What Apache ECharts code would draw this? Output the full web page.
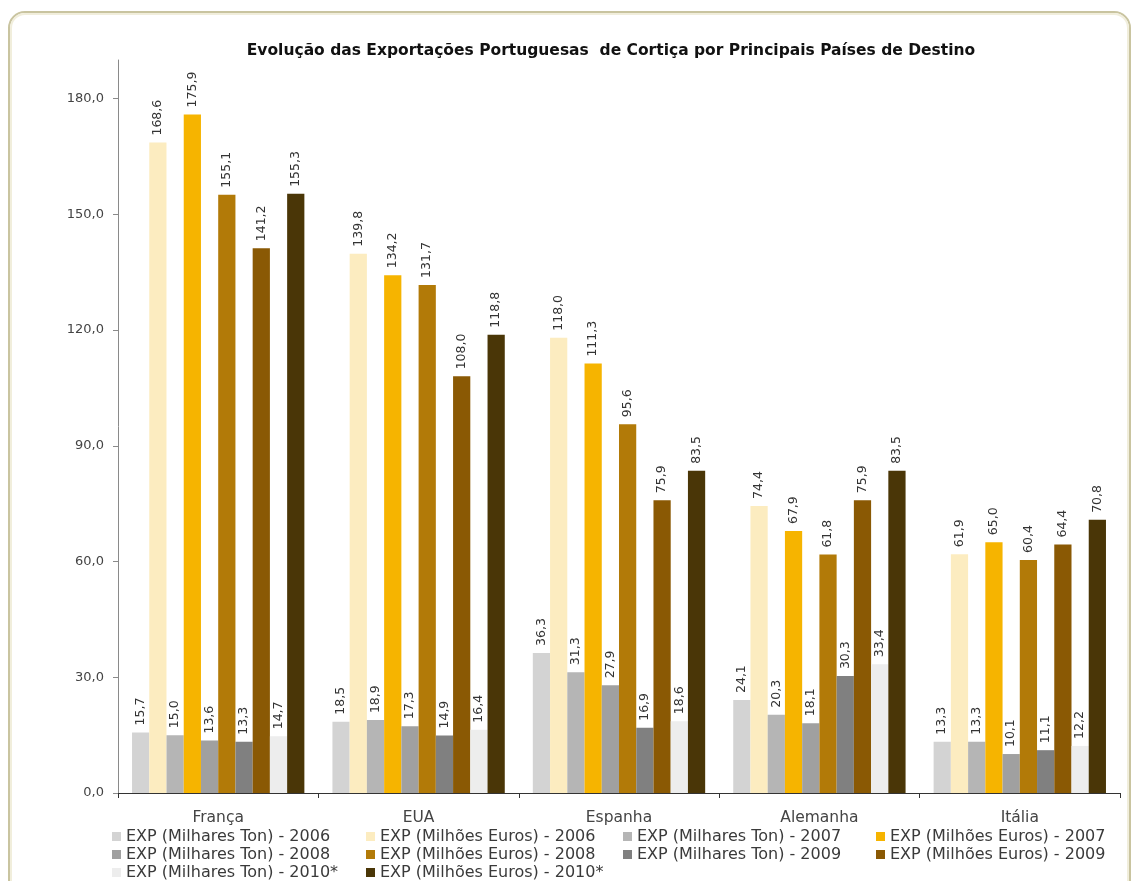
<!DOCTYPE html>
<html>
<head>
<meta charset="utf-8">
<script src="https://cdn.jsdelivr.net/npm/echarts@6/dist/echarts.min.js"></script>
<style>
  html, body { margin: 0; padding: 0; background: #ffffff; }
  #chart { width: 1132px; height: 881px; }
</style>
</head>
<body>
<div id="chart"></div>
<script>
// Destination countries
const categories = ['França', 'EUA', 'Espanha', 'Alemanha', 'Itália'];

// Exports in thousand tonnes, per year
const ton2006 = [15.7, 18.5, 36.3, 24.1, 13.3];
const ton2007 = [15.0, 18.9, 31.3, 20.3, 13.3];
const ton2008 = [13.6, 17.3, 27.9, 18.1, 10.1];
const ton2009 = [13.3, 14.9, 16.9, 30.3, 11.1];
const ton2010 = [14.7, 16.4, 18.6, 33.4, 12.2];

// Exports in million euros, per year
const eur2006 = [168.6, 139.8, 118.0, 74.4, 61.9];
const eur2007 = [175.9, 134.2, 111.3, 67.9, 65.0];
const eur2008 = [155.1, 131.7, 95.6, 61.8, 60.4];
const eur2009 = [141.2, 108.0, 75.9, 75.9, 64.4];
const eur2010 = [155.3, 118.8, 83.5, 83.5, 70.8];

// Value axis ticks
const yTicks = [0, 30, 60, 90, 120, 150, 180];

const seriesDefs = [
  { name: 'EXP (Milhares Ton) - 2006',   data: ton2006, color: '#d3d3d3' },
  { name: 'EXP (Milhões Euros) - 2006',  data: eur2006, color: '#fcecc0' },
  { name: 'EXP (Milhares Ton) - 2007',   data: ton2007, color: '#b5b5b5' },
  { name: 'EXP (Milhões Euros) - 2007',  data: eur2007, color: '#f6b400' },
  { name: 'EXP (Milhares Ton) - 2008',   data: ton2008, color: '#a0a0a0' },
  { name: 'EXP (Milhões Euros) - 2008',  data: eur2008, color: '#b27a08' },
  { name: 'EXP (Milhares Ton) - 2009',   data: ton2009, color: '#808080' },
  { name: 'EXP (Milhões Euros) - 2009',  data: eur2009, color: '#8a5904' },
  { name: 'EXP (Milhares Ton) - 2010*',  data: ton2010, color: '#ededed' },
  { name: 'EXP (Milhões Euros) - 2010*', data: eur2010, color: '#4a3607' }
];

const FONT = 'DejaVu Sans';
const fmt1 = v => v.toFixed(1).replace('.', ',');

const series = seriesDefs.map(s => ({
  name: s.name,
  type: 'bar',
  data: s.data,
  barGap: '0%',
  barCategoryGap: '14%',
  itemStyle: { color: s.color },
  label: {
    show: true,
    position: 'top',
    rotate: 90,
    align: 'left',
    verticalAlign: 'middle',
    distance: 7,
    fontFamily: FONT,
    fontSize: 12.5,
    color: '#333333',
    formatter: p => fmt1(p.value)
  }
}));

const legendCommon = {
  orient: 'vertical',
  top: 828,
  itemWidth: 9,
  itemHeight: 9,
  itemGap: 1,
  icon: 'rect',
  selectedMode: false,
  textStyle: { fontFamily: FONT, fontSize: 16, color: '#3a3a3a', lineHeight: 17 },
  padding: 0
};

const chart = echarts.init(document.getElementById('chart'), null, { renderer: 'canvas' });
chart.setOption({
  animation: false,
  backgroundColor: '#ffffff',
  title: {
    text: 'Evolução das Exportações Portuguesas  de Cortiça por Principais Países de Destino',
    left: 606,
    top: 38,
    textAlign: 'center',
    textStyle: { fontFamily: FONT, fontSize: 15.5, fontWeight: 'bold', color: '#111111' }
  },
  graphic: [
    {
      type: 'rect',
      shape: { x: 9, y: 12, width: 1121, height: 900, r: 16 },
      style: { fill: 'none', stroke: '#c9c4a0', lineWidth: 2 },
      z: -1
    },
    {
      type: 'rect',
      shape: { x: 11, y: 14, width: 1117, height: 900, r: 14 },
      style: { fill: 'none', stroke: '#f1eedc', lineWidth: 2 },
      z: -1
    }
  ],
  legend: [
    Object.assign({ left: 112, data: [seriesDefs[0].name, seriesDefs[4].name, seriesDefs[8].name] }, legendCommon),
    Object.assign({ left: 366, data: [seriesDefs[1].name, seriesDefs[5].name, seriesDefs[9].name] }, legendCommon),
    Object.assign({ left: 623, data: [seriesDefs[2].name, seriesDefs[6].name] }, legendCommon),
    Object.assign({ left: 876, data: [seriesDefs[3].name, seriesDefs[7].name] }, legendCommon)
  ],
  grid: { left: 118, right: 12, top: 60, bottom: 88, containLabel: false },
  xAxis: {
    type: 'category',
    data: categories,
    axisLine: { lineStyle: { color: '#333333', width: 1 } },
    axisTick: { show: true, alignWithLabel: false, length: 5, lineStyle: { color: '#333333' } },
    axisLabel: { fontFamily: FONT, fontSize: 15.5, color: '#444444', margin: 17 }
  },
  yAxis: {
    type: 'value',
    min: 0,
    max: 190,
    interval: 30,
    splitLine: { show: false },
    axisLine: { show: true, lineStyle: { color: '#8a8a8a', width: 1 } },
    axisTick: { show: true, length: 5, customValues: yTicks, lineStyle: { color: '#8a8a8a' } },
    axisLabel: {
      fontFamily: FONT, fontSize: 13, color: '#444444', margin: 14,
      customValues: yTicks,
      formatter: v => fmt1(v)
    }
  },
  series: series
});
</script>
</body>
</html>
